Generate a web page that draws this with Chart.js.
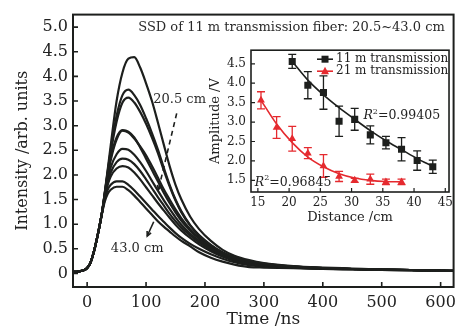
<!DOCTYPE html>
<html><head><meta charset="utf-8">
<script src="https://cdn.jsdelivr.net/npm/chart.js@4.4.1/dist/chart.umd.min.js"></script>
<style>
html,body{margin:0;padding:0;background:#fff;}
#wrap{position:relative;width:462px;height:333px;overflow:hidden;}
#main{position:absolute;left:0;top:0;}
#inset{position:absolute;left:200px;top:38px;}
</style></head><body>
<div id="wrap"><canvas id="main" width="462" height="333"></canvas><canvas id="inset" width="257" height="190"></canvas></div>
<script>
// ---------- main chart data ----------
const timeNs = [-25,-15,-5,0,5,10,15,20,25,30,35,40,50,60,70,80,90,100,110,120,130,140,150,160,175,190,210,230,250,275,300,350,400,450,500,550,600,625];
const curve20_5 = [0.03,0.04,0.07,0.11,0.2,0.38,0.62,0.9,1.22,1.65,2.12,2.6,3.5,4.08,4.36,4.39,4.18,3.86,3.5,3.07,2.62,2.18,1.8,1.5,1.15,0.9,0.66,0.48,0.36,0.27,0.21,0.15,0.12,0.1,0.08,0.07,0.06,0.05];
const curve23_0 = [0.03,0.04,0.07,0.11,0.2,0.38,0.62,0.9,1.22,1.64,2.08,2.5,3.2,3.62,3.73,3.62,3.42,3.15,2.85,2.52,2.15,1.8,1.5,1.26,0.98,0.78,0.58,0.43,0.33,0.25,0.2,0.14,0.11,0.09,0.08,0.07,0.06,0.05];
const curve25_5 = [0.03,0.04,0.07,0.11,0.2,0.38,0.62,0.9,1.22,1.63,2.05,2.45,3.08,3.47,3.57,3.47,3.28,3.04,2.76,2.45,2.1,1.77,1.48,1.24,0.97,0.77,0.57,0.42,0.32,0.24,0.19,0.14,0.11,0.09,0.08,0.07,0.06,0.05];
const curve28_0 = [0.03,0.04,0.07,0.11,0.2,0.38,0.62,0.9,1.22,1.6,1.98,2.3,2.72,2.9,2.86,2.74,2.58,2.4,2.18,1.95,1.71,1.5,1.3,1.12,0.9,0.73,0.55,0.41,0.31,0.23,0.18,0.14,0.11,0.09,0.08,0.07,0.06,0.05];
const curve30_5 = [0.03,0.04,0.07,0.11,0.2,0.38,0.62,0.9,1.22,1.62,2.02,2.35,2.76,2.91,2.88,2.76,2.56,2.33,2.1,1.87,1.64,1.43,1.24,1.07,0.87,0.7,0.53,0.39,0.3,0.22,0.18,0.13,0.11,0.09,0.08,0.07,0.06,0.05];
const curve33_0 = [0.03,0.04,0.07,0.11,0.2,0.38,0.62,0.9,1.22,1.58,1.9,2.15,2.42,2.53,2.51,2.41,2.26,2.08,1.88,1.68,1.49,1.31,1.14,0.99,0.81,0.66,0.5,0.38,0.29,0.21,0.17,0.13,0.1,0.09,0.08,0.07,0.06,0.05];
const curve35_5 = [0.03,0.04,0.07,0.11,0.2,0.38,0.62,0.9,1.22,1.56,1.85,2.05,2.26,2.33,2.31,2.22,2.08,1.91,1.73,1.55,1.38,1.21,1.06,0.93,0.77,0.63,0.48,0.36,0.27,0.2,0.16,0.13,0.1,0.09,0.08,0.07,0.06,0.05];
const curve38_0 = [0.03,0.04,0.07,0.11,0.2,0.38,0.62,0.9,1.22,1.54,1.8,1.97,2.13,2.18,2.15,2.05,1.91,1.75,1.59,1.43,1.28,1.13,0.99,0.87,0.72,0.59,0.45,0.34,0.26,0.19,0.15,0.12,0.1,0.09,0.08,0.07,0.06,0.05];
const curve40_5 = [0.03,0.04,0.07,0.11,0.2,0.38,0.62,0.9,1.22,1.5,1.7,1.8,1.87,1.87,1.8,1.69,1.56,1.43,1.3,1.17,1.05,0.93,0.82,0.72,0.6,0.5,0.39,0.3,0.23,0.17,0.14,0.12,0.1,0.08,0.07,0.06,0.05,0.05];
const curve43_0 = [0.03,0.04,0.07,0.11,0.2,0.38,0.62,0.9,1.2,1.46,1.62,1.7,1.76,1.76,1.69,1.58,1.45,1.32,1.19,1.06,0.95,0.85,0.75,0.66,0.55,0.43,0.32,0.24,0.18,0.13,0.12,0.11,0.09,0.08,0.07,0.06,0.05,0.05];
const mainCurves = [curve20_5,curve23_0,curve25_5,curve28_0,curve30_5,curve33_0,curve35_5,curve38_0,curve40_5,curve43_0];
const mainTitle = 'SSD of 11 m transmission fiber: 20.5~43.0 cm';
const xTitle = 'Time /ns';
const yTitle = 'Intensity /arb. units';

// ---------- inset data ----------
const dist11 = [20.5,23,25.5,28,30.5,33,35.5,38,40.5,43];
const amp11  = [4.56,3.95,3.76,3.02,3.07,2.67,2.47,2.3,2.01,1.85];
const err11  = [0.18,0.35,0.43,0.39,0.28,0.23,0.16,0.3,0.25,0.17];
const fit11  = [4.56,4.08,3.7,3.37,3.07,2.78,2.52,2.29,2.06,1.86];
const dist21 = [15.5,18,20.5,23,25.5,28,30.5,33,35.5,38];
const amp21  = [3.56,2.86,2.57,2.2,1.87,1.6,1.5,1.53,1.46,1.46];
const err21  = [0.22,0.28,0.32,0.14,0.29,0.13,0.05,0.13,0.07,0.07];
const fit21  = [3.56,2.95,2.47,2.1,1.85,1.67,1.56,1.5,1.47,1.46];
const legend11 = '11 m transmission';
const legend21 = '21 m transmission';
const r2_11 = '=0.99405';
const r2_21 = '=0.96845';

const SERIF = "'DejaVu Serif', serif";
const INK = '#1d1f1d';
const RED = '#e52a2f';

function arrowHead(ctx, x1, y1, x2, y2, len){
  const a = Math.atan2(y2-y1, x2-x1);
  ctx.beginPath();
  ctx.moveTo(x2 - len*Math.cos(a-0.45), y2 - len*Math.sin(a-0.45));
  ctx.lineTo(x2, y2);
  ctx.lineTo(x2 - len*Math.cos(a+0.45), y2 - len*Math.sin(a+0.45));
  ctx.stroke();
}

const mainDeco = {
  id:'mainDeco',
  afterDraw(chart){
    const {ctx, chartArea:a, scales:{x,y}} = chart;
    ctx.save();
    ctx.strokeStyle = INK; ctx.lineWidth = 2;
    ctx.strokeRect(a.left, a.top, a.right-a.left, a.bottom-a.top);
    ctx.lineWidth = 1.6;
    ctx.beginPath();
    x.ticks.forEach(t=>{const p=x.getPixelForValue(t.value); ctx.moveTo(p,a.bottom); ctx.lineTo(p,a.bottom-5);});
    y.ticks.forEach(t=>{const p=y.getPixelForValue(t.value); ctx.moveTo(a.left,p); ctx.lineTo(a.left+5,p);});
    ctx.stroke();
    ctx.fillStyle = '#2a2a2a';
    ctx.font = '13px ' + SERIF;
    ctx.textBaseline = 'middle';
    ctx.textAlign = 'right';
    ctx.fillText(mainTitle, x.getPixelForValue(607), y.getPixelForValue(5.0));
    ctx.textAlign = 'center';
    ctx.fillText('20.5 cm', x.getPixelForValue(157), y.getPixelForValue(3.53));
    ctx.fillText('43.0 cm', x.getPixelForValue(85), y.getPixelForValue(0.51));
    // dashed arrow for 20.5 cm
    ctx.strokeStyle = INK; ctx.lineWidth = 1.6;
    const x1=x.getPixelForValue(152), y1=y.getPixelForValue(3.25), x2=x.getPixelForValue(121), y2=y.getPixelForValue(1.7);
    ctx.setLineDash([5,4]);
    ctx.beginPath(); ctx.moveTo(x1,y1); ctx.lineTo(x2,y2); ctx.stroke();
    ctx.setLineDash([]);
    arrowHead(ctx,x1,y1,x2,y2,5);
    // arrow for 43.0 cm
    const x3=x.getPixelForValue(113), y3=y.getPixelForValue(1.05), x4=x.getPixelForValue(102), y4=y.getPixelForValue(0.76);
    ctx.beginPath(); ctx.moveTo(x3,y3); ctx.lineTo(x4,y4); ctx.stroke();
    arrowHead(ctx,x3,y3,x4,y4,5);
    ctx.restore();
  }
};

new Chart(document.getElementById('main'), {
  type:'line',
  data:{datasets: mainCurves.map(vals => ({
    data: timeNs.map((t,i)=>({x:t, y:vals[i]})),
    borderColor: INK, borderWidth: 2.2, pointRadius: 0, fill:false,
    cubicInterpolationMode:'monotone'
  }))},
  options:{
    responsive:false, animation:false, events:[],
    layout:{padding:{top:5,right:3,left:0,bottom:0}},
    plugins:{legend:{display:false}, tooltip:{enabled:false}},
    scales:{
      x:{type:'linear', min:-24, max:622,
        afterFit(s){ s.height = 46; },
        grid:{display:false, drawTicks:false}, border:{display:false},
        ticks:{stepSize:100, includeBounds:false, padding:6, maxRotation:0, color:'#222', font:{family:SERIF, size:16}},
        title:{display:true, text:xTitle, color:'#222', font:{family:SERIF, size:17}, padding:{top:0,bottom:3}}},
      y:{type:'linear', min:-0.275, max:5.255,
        afterFit(s){ s.width = 73; },
        grid:{display:false, drawTicks:false}, border:{display:false},
        ticks:{stepSize:0.5, includeBounds:false, padding:5, color:'#222', font:{family:SERIF, size:16},
          callback:v => Math.abs(v)<1e-9 ? '0' : v.toFixed(1)},
        title:{display:true, text:yTitle, color:'#222', font:{family:SERIF, size:16}, padding:{top:13,bottom:0}}}
    }
  },
  plugins:[mainDeco]
});

// ---------- inset ----------
const insetDeco = {
  id:'insetDeco',
  beforeDatasetsDraw(chart){
    const {ctx, scales:{x,y}} = chart;
    ctx.save();
    ctx.lineWidth = 1.3;
    const bars = [[dist11,amp11,err11,INK],[dist21,amp21,err21,RED]];
    bars.forEach(([d,a,e,c])=>{
      ctx.strokeStyle = c;
      ctx.beginPath();
      d.forEach((dv,i)=>{
        const px = x.getPixelForValue(dv), top = y.getPixelForValue(a[i]+e[i]), bot = y.getPixelForValue(a[i]-e[i]);
        ctx.moveTo(px,top); ctx.lineTo(px,bot);
        ctx.moveTo(px-4,top); ctx.lineTo(px+4,top);
        ctx.moveTo(px-4,bot); ctx.lineTo(px+4,bot);
      });
      ctx.stroke();
    });
    ctx.restore();
  },
  afterDraw(chart){
    const {ctx, chartArea:a, scales:{x,y}} = chart;
    ctx.save();
    ctx.strokeStyle = INK; ctx.lineWidth = 1.6;
    ctx.strokeRect(a.left, a.top, a.right-a.left, a.bottom-a.top);
    ctx.lineWidth = 1.2;
    ctx.beginPath();
    x.ticks.forEach(t=>{const p=x.getPixelForValue(t.value); ctx.moveTo(p,a.bottom); ctx.lineTo(p,a.bottom-4);});
    y.ticks.forEach(t=>{const p=y.getPixelForValue(t.value); ctx.moveTo(a.left,p); ctx.lineTo(a.left+4,p);});
    ctx.stroke();
    // legend
    const rows = [[legend11,INK,'rect',a.top+9],[legend21,RED,'tri',a.top+21]];
    rows.forEach(([txt,c,shape,ry])=>{
      const lx = a.right-132;
      ctx.strokeStyle = c; ctx.fillStyle = c; ctx.lineWidth = 1.6;
      ctx.beginPath(); ctx.moveTo(lx,ry); ctx.lineTo(lx+16,ry); ctx.stroke();
      ctx.beginPath();
      if (shape==='rect') { ctx.rect(lx+4.5,ry-3.5,7,7); }
      else { ctx.moveTo(lx+8,ry-4.5); ctx.lineTo(lx+12,ry+3); ctx.lineTo(lx+4,ry+3); ctx.closePath(); }
      ctx.fill();
      ctx.fillStyle = '#222';
      ctx.font = '12px ' + SERIF; ctx.textAlign='left'; ctx.textBaseline='middle';
      ctx.fillText(txt, lx+19, ry);
    });
    // R^2 labels
    const r2 = [[r2_11,31.9,3.16],[r2_21,14.5,1.45]];
    r2.forEach(([txt,dx,dy])=>{
      let px = x.getPixelForValue(dx); const py = y.getPixelForValue(dy);
      ctx.fillStyle = '#222'; ctx.textAlign='left'; ctx.textBaseline='middle';
      ctx.font = 'italic 12.5px ' + SERIF; ctx.fillText('R', px, py);
      px += ctx.measureText('R').width;
      ctx.font = '8px ' + SERIF; ctx.fillText('2', px, py-4);
      px += ctx.measureText('2').width;
      ctx.font = '12.5px ' + SERIF; ctx.fillText(txt, px, py);
    });
    ctx.restore();
  }
};

new Chart(document.getElementById('inset'), {
  type:'line',
  data:{datasets:[
    {data: dist11.map((d,i)=>({x:d,y:amp11[i]})), showLine:false, pointStyle:'rect', pointRadius:5, borderWidth:0, backgroundColor:INK, borderColor:INK, order:0},
    {data: dist21.map((d,i)=>({x:d,y:amp21[i]})), showLine:false, pointStyle:'triangle', pointRadius:4.5, borderWidth:0, backgroundColor:RED, borderColor:RED, order:1},
    {data: dist11.map((d,i)=>({x:d,y:fit11[i]})), borderColor:INK, borderWidth:1.6, pointRadius:0, cubicInterpolationMode:'monotone', order:2},
    {data: dist21.map((d,i)=>({x:d,y:fit21[i]})), borderColor:RED, borderWidth:1.6, pointRadius:0, cubicInterpolationMode:'monotone', order:3}
  ]},
  options:{
    responsive:false, animation:false, events:[],
    layout:{padding:{top:7,right:3,left:0,bottom:0}},
    plugins:{legend:{display:false}, tooltip:{enabled:false}},
    scales:{
      x:{type:'linear', min:13.9, max:45.6,
        afterFit(s){ s.height = 36; },
        grid:{display:false, drawTicks:false}, border:{display:false},
        ticks:{stepSize:5, includeBounds:false, padding:4, maxRotation:0, color:'#222', font:{family:SERIF, size:12}},
        title:{display:true, text:'Distance /cm', color:'#222', font:{family:SERIF, size:13}, padding:{top:0,bottom:3}}},
      y:{type:'linear', min:1.2, max:4.85,
        afterFit(s){ s.width = 51; },
        grid:{display:false, drawTicks:false}, border:{display:false},
        ticks:{stepSize:0.5, includeBounds:false, padding:5, color:'#222', font:{family:SERIF, size:12},
          callback:v => v.toFixed(1)},
        title:{display:true, text:'Amplitude /V', color:'#222', font:{family:SERIF, size:13}, padding:{top:8,bottom:0}}}
    }
  },
  plugins:[insetDeco]
});
</script>
</body></html>
